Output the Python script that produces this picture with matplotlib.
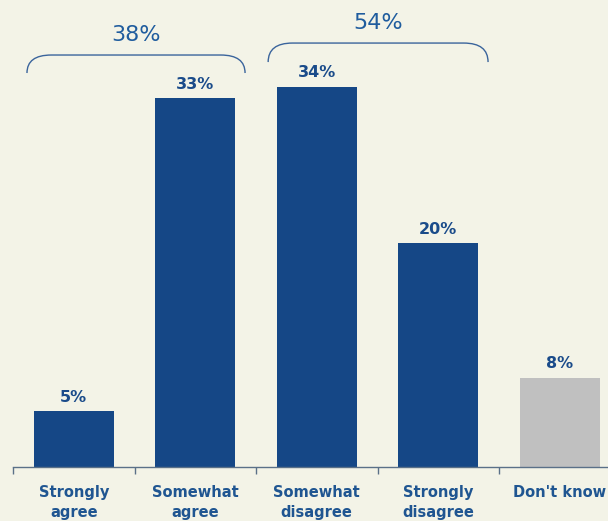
import matplotlib
matplotlib.use("Agg")
import matplotlib.pyplot as plt
from matplotlib.path import Path
from matplotlib.patches import PathPatch

categories = ["Strongly\nagree", "Somewhat\nagree", "Somewhat\ndisagree", "Strongly\ndisagree", "Don't know"]
values = [5, 33, 34, 20, 8]
bar_colors = ["#154786", "#154786", "#154786", "#154786", "#c0c0c0"]
group_labels = ["38%", "54%"]
group_spans = [(-0.385, 1.41), (1.60, 3.41)]
group_heights = [(36.85, 35.24), (37.92, 36.22)]

bg = "#f3f3e7"
fig = plt.figure(figsize=(6.08, 5.21), dpi=100, facecolor=bg)
ax = fig.add_axes([13/608, 1 - 467/521, 607.5/608, 467/521])
ax.set_facecolor(bg)
ax.patch.set_alpha(0)

x = list(range(len(categories)))
ax.bar(x, values, width=0.655, color=bar_colors, zorder=2)
ax.set_xlim(-0.5, 4.5)
ax.set_ylim(0, 467/11.18)

for xi, v in zip(x, values):
    ax.text(xi, v + 1.25, f"{v}%", ha="center", va="center", fontsize=11.5,
            fontweight="bold", color="#1a4b8a", family="DejaVu Sans")

for lbl, (x0, x1), (ytop, yend) in zip(group_labels, group_spans, group_heights):
    rx = 0.2
    verts = [(x0, yend), (x0, ytop), (x0 + rx, ytop), (x1 - rx, ytop),
             (x1, ytop), (x1, yend)]
    codes = [Path.MOVETO, Path.CURVE3, Path.CURVE3, Path.LINETO, Path.CURVE3, Path.CURVE3]
    ax.add_patch(PathPatch(Path(verts, codes), fill=False, edgecolor="#3a649c", lw=1.0,
                           clip_on=False))
    ax.text((x0 + x1) / 2, ytop + 1.75, lbl, ha="center", va="center", fontsize=16,
            color="#1f5c9e", family="DejaVu Sans")

for s in ["top", "right", "left"]:
    ax.spines[s].set_visible(False)
ax.spines["bottom"].set_color("#5a7088")
ax.spines["bottom"].set_linewidth(1.0)
ax.set_yticks([])
ax.set_xticks([-0.5, 0.5, 1.5, 2.5, 3.5])
ax.set_xticklabels([])
ax.tick_params(axis="x", length=5, width=1, color="#5a7088", direction="out")
ax.set_xticks(x, minor=True)
ax.set_xticklabels(categories, minor=True, fontsize=10.5, fontweight="bold",
                   color="#1f5591", linespacing=1.45)
ax.tick_params(axis="x", which="minor", length=0, pad=13)

fig.savefig("out.png", dpi=100, facecolor=bg)
